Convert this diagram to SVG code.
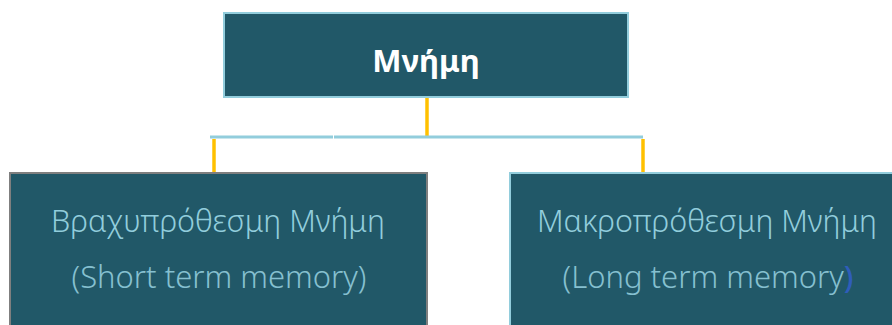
<svg xmlns="http://www.w3.org/2000/svg" width="892" height="325" viewBox="0 0 892 325">
<style>
.box{fill:#215868;stroke-width:2}
.t1{font-family:"Noto Sans","DejaVu Sans",sans-serif;font-weight:300;fill:#92CDDC;text-anchor:middle}
.t2{font-family:"Noto Sans","DejaVu Sans",sans-serif;font-weight:300;fill:#86C0D0;text-anchor:middle}
.y{stroke:#FFC000;stroke-width:3.5;fill:none}
.b{stroke:#92CDDC;stroke-width:3;fill:none}
</style>
<rect width="892" height="325" fill="#ffffff"/>
<g id="connectors">
<line class="y" x1="427" y1="97" x2="427" y2="136"/>
<line class="b" x1="210" y1="137" x2="333" y2="137"/>
<line class="b" x1="334" y1="137" x2="643" y2="137"/>
<line class="y" x1="214" y1="139" x2="214" y2="173"/>
<line class="y" x1="643" y1="139" x2="643" y2="173"/>
</g>
<g id="node-memory">
<rect class="box" x="224" y="13" width="404" height="84" stroke="#92CDDC"/>
<text x="426" y="72" font-family="'Noto Sans','DejaVu Sans',sans-serif" font-weight="700" font-size="31" fill="#ffffff" text-anchor="middle">Μνήμη</text>
</g>
<g id="node-short">
<rect class="box" x="10" y="173" width="417" height="160" stroke="#7F7F7F"/>
<text class="t1" x="218" y="232" font-size="30.5">Βραχυπρόθεσμη Μνήμη</text>
<text class="t2" x="219" y="288" font-size="31">(Short term memory)</text>
</g>
<g id="node-long">
<rect class="box" x="510" y="173" width="392" height="160" stroke="#92CDDC"/>
<text class="t1" x="707" y="232" font-size="30.5">Μακροπρόθεσμη Μνήμη</text>
<text class="t2" x="708" y="288" font-size="31">(Long term memory<tspan fill="#2F5DBA" font-weight="500">)</tspan></text>
</g>
</svg>
